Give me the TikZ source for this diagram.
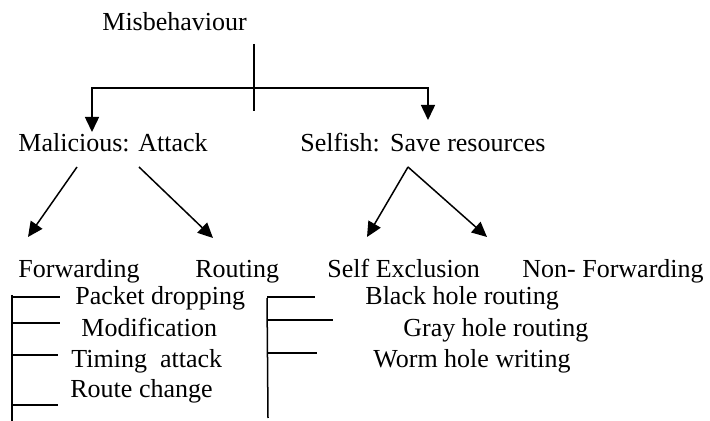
\documentclass[tikz,border=0pt]{standalone}
\usepackage{fontspec}
\setmainfont{Liberation Serif}
\usetikzlibrary{arrows.meta}
\begin{document}
\begin{tikzpicture}[x=0.5pt,y=-0.5pt,
  lbl/.style={anchor=base west,inner sep=0pt,font=\fontsize{13}{15}\selectfont},
  ln/.style={line width=0.75pt},
  arr/.style={line width=0.75pt,-{Triangle[length=7.5pt,width=7pt]}}]
\useasboundingbox (0,0) rectangle (710,421);

% labels
\node[lbl] (mis) at (102,31) {Misbehaviour};
\node[lbl] (mal) at (18,152) {Malicious: Attack};
\node[lbl] (sel) at (300,152) {Selfish:\hspace{0.4em}Save resources};
\node[lbl] (fwd) at (18,278) {Forwarding};
\node[lbl] (rout) at (195,278) {Routing};
\node[lbl] (sex) at (327,278) {Self Exclusion};
\node[lbl] (nfw) at (522,278) {Non- Forwarding};
\node[lbl] (pd) at (75,305) {Packet dropping};
\node[lbl] (mod) at (81,336) {Modification};
\node[lbl] (ta) at (71,367) {Timing~ attack};
\node[lbl] (rc) at (70,397) {Route change};
\node[lbl] (bh) at (365,305) {Black hole routing};
\node[lbl] (gh) at (403,336) {Gray hole routing};
\node[lbl] (wh) at (373,367) {Worm hole writing};

% top split
\coordinate (stemT) at (254,44);
\coordinate (stemB) at (254,111);
\coordinate (barL) at (92,88);
\coordinate (barR) at (428,88);
\coordinate (tipL) at (92,132);
\coordinate (tipR) at (428,120);
\draw[ln] (stemT) -- (stemB);
\draw[arr] (254,88) -- (barL) -- (tipL);
\draw[arr] (254,88) -- (barR) -- (tipR);

% malicious branch
\coordinate (m1) at (77,167);
\coordinate (m2) at (139,167);
\coordinate (mt1) at (28,237);
\coordinate (mt2) at (213,238);
\draw[arr] (m1) -- (mt1);
\draw[arr] (m2) -- (mt2);

% selfish branch
\coordinate (s0) at (408,167);
\coordinate (st1) at (367,237);
\coordinate (st2) at (487,237);
\draw[arr] (s0) -- (st1);
\draw[arr] (s0) -- (st2);

% forwarding list
\coordinate (fT) at (12,295);
\coordinate (fB) at (12,421);
\draw[ln] (fT) -- (fB);
\draw[ln] (12,297) -- (60,297);
\draw[ln] (12,323) -- (60,323);
\draw[ln] (12,355) -- (58,355);
\draw[ln] (12,405) -- (58,405);

% routing list
\coordinate (rT) at (267,298);
\coordinate (rB) at (268,418);
\draw[ln] (rT) -- (rB);
\draw[ln] (267,297) -- (315,297);
\draw[ln] (267,320) -- (333,320);
\draw[ln] (268,353) -- (317,353);
\end{tikzpicture}
\end{document}
